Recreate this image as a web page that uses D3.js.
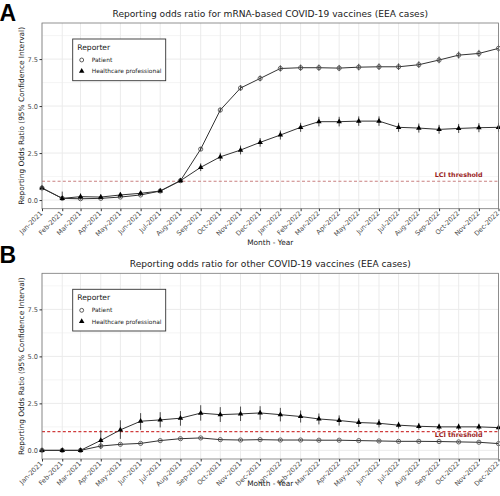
<!DOCTYPE html>
<html>
<head>
<meta charset="utf-8">
<script src="https://cdn.jsdelivr.net/npm/d3@7"></script>
<style>
  body { margin: 0; background: #fff; }
  svg { display: block; font-family: "DejaVu Sans", Verdana, sans-serif; }
</style>
</head>
<body>
<svg id="chart" width="500" height="496"></svg>
<script>
// ---------- DATA ----------
const months = ["2021-01","2021-02","2021-03","2021-04","2021-05","2021-06","2021-07","2021-08","2021-09","2021-10","2021-11","2021-12",
                "2022-01","2022-02","2022-03","2022-04","2022-05","2022-06","2022-07","2022-08","2022-09","2022-10","2022-11","2022-12"];
const tickLabels = ["Jan-2021","Feb-2021","Mar-2021","Apr-2021","May-2021","Jun-2021","Jul-2021","Aug-2021","Sep-2021","Oct-2021","Nov-2021","Dec-2021",
                    "Jan-2022","Feb-2022","Mar-2022","Apr-2022","May-2022","Jun-2022","Jul-2022","Aug-2022","Sep-2022","Oct-2022","Nov-2022","Dec-2022"];
const yTicks = [0, 2.5, 5, 7.5];
const yMinor = [1.25, 3.75, 6.25, 8.75];
const seriesNames = ["Patient", "Healthcare professional"];

// Panel A: mRNA-based vaccines
const mrnaPatient    = [0.64,0.09,0.07,0.09,0.16,0.27,0.48,1.03,2.71,4.79,5.96,6.47,7.00,7.04,7.04,7.02,7.07,7.09,7.09,7.20,7.45,7.71,7.80,8.07];
const mrnaPatientLo  = [0.58,0.02,0.03,0.05,0.12,0.23,0.44,0.97,2.61,4.67,5.82,6.32,6.84,6.88,6.88,6.86,6.90,6.92,6.92,7.03,7.28,7.53,7.62,7.88];
const mrnaPatientHi  = [0.70,0.20,0.12,0.14,0.21,0.31,0.53,1.10,2.82,4.92,6.11,6.63,7.17,7.21,7.21,7.19,7.25,7.27,7.27,7.38,7.63,7.90,7.99,8.27];
const mrnaHcp        = [0.64,0.09,0.18,0.16,0.27,0.36,0.48,1.03,1.74,2.30,2.66,3.07,3.46,3.87,4.17,4.17,4.20,4.20,3.87,3.83,3.76,3.81,3.85,3.87];
const mrnaHcpLo      = [0.58,0.00,0.05,0.05,0.15,0.25,0.40,0.94,1.54,2.08,2.43,2.84,3.22,3.63,3.92,3.92,3.95,3.95,3.63,3.59,3.53,3.57,3.61,3.63];
const mrnaHcpHi      = [0.70,0.45,0.35,0.30,0.40,0.48,0.58,1.12,1.95,2.52,2.90,3.30,3.70,4.11,4.43,4.43,4.45,4.45,4.11,4.07,4.00,4.05,4.09,4.11];

// Panel B: other vaccines
const otherPatient   = [0.00,0.00,0.00,0.23,0.32,0.37,0.52,0.62,0.66,0.57,0.55,0.57,0.55,0.55,0.54,0.54,0.52,0.50,0.48,0.48,0.47,0.45,0.43,0.36];
const otherPatientLo = [0.00,0.00,0.00,0.18,0.27,0.33,0.48,0.58,0.62,0.53,0.51,0.53,0.51,0.51,0.50,0.50,0.48,0.46,0.44,0.44,0.43,0.41,0.39,0.32];
const otherPatientHi = [0.00,0.00,0.00,0.28,0.37,0.42,0.57,0.67,0.71,0.61,0.59,0.61,0.59,0.59,0.58,0.58,0.56,0.54,0.52,0.52,0.51,0.49,0.47,0.40];
const otherHcp       = [0.00,0.00,0.00,0.53,1.09,1.55,1.62,1.71,1.98,1.90,1.94,1.99,1.90,1.80,1.67,1.59,1.48,1.44,1.34,1.28,1.25,1.25,1.25,1.21];
const otherHcpLo     = [0.00,0.00,0.00,0.07,0.61,1.09,1.22,1.31,1.58,1.51,1.56,1.63,1.54,1.48,1.38,1.32,1.24,1.22,1.16,1.10,1.08,1.08,1.08,1.05];
const otherHcpHi     = [0.00,0.00,0.00,1.07,1.60,1.98,2.03,2.09,2.40,2.30,2.33,2.35,2.26,2.12,1.96,1.86,1.71,1.66,1.52,1.46,1.42,1.42,1.42,1.38];

const lciValue = 1;
const titleA = "Reporting odds ratio for mRNA-based COVID-19 vaccines (EEA cases)";
const titleB = "Reporting odds ratio for other COVID-19 vaccines (EEA cases)";

// ---------- DRAW ----------
const svg = d3.select("#chart");
const parse = d3.timeParse("%Y-%m");
const dates = months.map(parse);

const x = d3.scaleTime().domain([dates[0], dates[dates.length - 1]]).range([42, 498.5]);

function panel(cfg) {
  const y = d3.scaleLinear().domain([-0.46, 9.42]).range([cfg.bottom, cfg.top]);
  const g = svg.append("g");

  // panel label
  g.append("text").attr("x", -0.5).attr("y", cfg.letterY).attr("font-size", 23).attr("font-weight", "bold")
    .attr("font-family", "Liberation Sans, Arial, sans-serif").text(cfg.letter);

  // title
  g.append("text").attr("x", (x.range()[0] + x.range()[1]) / 2).attr("y", cfg.top - 6)
    .attr("text-anchor", "middle").attr("font-size", 9.1).attr("fill", "#1a1a1a").text(cfg.title);

  // grid
  const grid = g.append("g");
  grid.selectAll(".hminor").data(yMinor).join("line")
    .attr("x1", x.range()[0]).attr("x2", x.range()[1])
    .attr("y1", d => y(d)).attr("y2", d => y(d))
    .attr("stroke", "#efefef").attr("stroke-width", 0.6);
  grid.selectAll(".hmajor").data(yTicks).join("line")
    .attr("x1", x.range()[0]).attr("x2", x.range()[1])
    .attr("y1", d => y(d)).attr("y2", d => y(d))
    .attr("stroke", "#ebebeb").attr("stroke-width", 1);
  grid.selectAll(".v").data(dates).join("line")
    .attr("x1", d => x(d)).attr("x2", d => x(d))
    .attr("y1", cfg.top).attr("y2", cfg.bottom)
    .attr("stroke", "#ebebeb").attr("stroke-width", 1);

  // LCI threshold
  g.append("line").attr("x1", x.range()[0]).attr("x2", x.range()[1])
    .attr("y1", y(lciValue)).attr("y2", y(lciValue))
    .attr("stroke", cfg.lciColor).attr("stroke-width", 1.2).attr("stroke-dasharray", "3,2.2");
  g.append("text").attr("x", x(parse("2022-10"))).attr("y", y(lciValue) + cfg.lciDy)
    .attr("text-anchor", "middle").attr("font-size", 6.4).attr("font-weight", "bold")
    .attr("fill", "#9b1c1c").text("LCI threshold");

  // series
  const line = d3.line().x((d, i) => x(dates[i])).y(d => y(d));
  cfg.series.forEach(s => {
    g.append("path").datum(s.v).attr("d", line)
      .attr("fill", "none").attr("stroke", "#333").attr("stroke-width", 1);
  });
  cfg.series.forEach(s => {
    g.append("g").selectAll("line").data(s.v).join("line")
      .attr("x1", (d, i) => x(dates[i])).attr("x2", (d, i) => x(dates[i]))
      .attr("y1", (d, i) => y(s.lo[i])).attr("y2", (d, i) => y(s.hi[i]))
      .attr("stroke", "#222").attr("stroke-width", 0.8);
  });
  cfg.series.forEach(s => {
    const sym = s.shape === "circle" ? d3.symbolCircle : d3.symbolTriangle;
    const size = s.shape === "circle" ? 14 : 13;
    g.append("g").selectAll("path").data(s.v).join("path")
      .attr("transform", (d, i) => `translate(${x(dates[i])},${y(d)})`)
      .attr("d", d3.symbol().type(sym).size(size))
      .attr("fill", s.shape === "circle" ? "none" : "#000")
      .attr("stroke", s.shape === "circle" ? "#444" : "none")
      .attr("stroke-width", 0.8);
  });

  // border
  g.append("rect").attr("x", x.range()[0]).attr("y", cfg.top)
    .attr("width", x.range()[1] - x.range()[0]).attr("height", cfg.bottom - cfg.top)
    .attr("fill", "none").attr("stroke", "#777").attr("stroke-width", 0.8);

  // y axis
  const ya = g.append("g").attr("transform", `translate(${x.range()[0]},0)`)
    .call(d3.axisLeft(y).tickValues(yTicks).tickFormat(d3.format(".1f")).tickSize(2.5).tickPadding(1.5));
  ya.select(".domain").remove();
  ya.selectAll(".tick line").attr("stroke", "#333");
  ya.selectAll("text").attr("font-size", 6.6).attr("fill", "#4d4d4d").attr("font-family", "DejaVu Sans, sans-serif");

  // x axis
  const xa = g.append("g").attr("transform", `translate(0,${cfg.bottom})`)
    .call(d3.axisBottom(x).tickValues(dates).tickFormat((d, i) => tickLabels[i]).tickSize(2.5));
  xa.select(".domain").remove();
  xa.selectAll(".tick line").attr("stroke", "#333");
  xa.selectAll("text").attr("font-size", 6.6).attr("fill", "#4d4d4d").attr("font-family", "DejaVu Sans, sans-serif")
    .attr("text-anchor", "end").attr("dy", null).attr("y", 0)
    .attr("transform", "translate(0.5,5) rotate(-45)");

  // axis titles
  g.append("text").attr("transform", `translate(24,${(cfg.top + cfg.bottom) / 2}) rotate(-90)`)
    .attr("text-anchor", "middle").attr("font-size", 7.4).attr("fill", "#1a1a1a")
    .text("Reporting Odds Ratio (95% Confidence Interval)");
  g.append("text").attr("x", (x.range()[0] + x.range()[1]) / 2).attr("y", cfg.bottom + cfg.xTitleDy)
    .attr("text-anchor", "middle").attr("font-size", 7.4).attr("fill", "#1a1a1a").text("Month - Year");

  // legend
  const lg = g.append("g").attr("transform", `translate(72.7,${cfg.top + 16})`);
  lg.append("rect").attr("width", 93).attr("height", 41.7).attr("fill", "#fff")
    .attr("stroke", "#333").attr("stroke-width", 0.9);
  lg.append("text").attr("x", 4.5).attr("y", 10.5).attr("font-size", 7.6).attr("fill", "#1a1a1a").text("Reporter");
  seriesNames.forEach((n, i) => {
    const yy = 21 + i * 11.2;
    lg.append("path").attr("transform", `translate(9,${yy})`)
      .attr("d", d3.symbol().type(i === 0 ? d3.symbolCircle : d3.symbolTriangle).size(i === 0 ? 12 : 13))
      .attr("fill", i === 0 ? "none" : "#000").attr("stroke", i === 0 ? "#333" : "none").attr("stroke-width", 0.8);
    lg.append("text").attr("x", 19).attr("y", yy + 2.2).attr("font-size", 5.9).attr("fill", "#1a1a1a").text(n);
  });
}

panel({
  letter: "A", title: titleA, top: 23, bottom: 208.7, lciDy: -4, letterY: 21, xTitleDy: 36, lciColor: "#c98080",
  series: [
    { v: mrnaPatient, lo: mrnaPatientLo, hi: mrnaPatientHi, shape: "circle" },
    { v: mrnaHcp, lo: mrnaHcpLo, hi: mrnaHcpHi, shape: "triangle" }
  ]
});
panel({
  letter: "B", title: titleB, top: 273.3, bottom: 459, lciDy: 5, letterY: 263, xTitleDy: 27, lciColor: "#d03c3c",
  series: [
    { v: otherPatient, lo: otherPatientLo, hi: otherPatientHi, shape: "circle" },
    { v: otherHcp, lo: otherHcpLo, hi: otherHcpHi, shape: "triangle" }
  ]
});
</script>
</body>
</html>
